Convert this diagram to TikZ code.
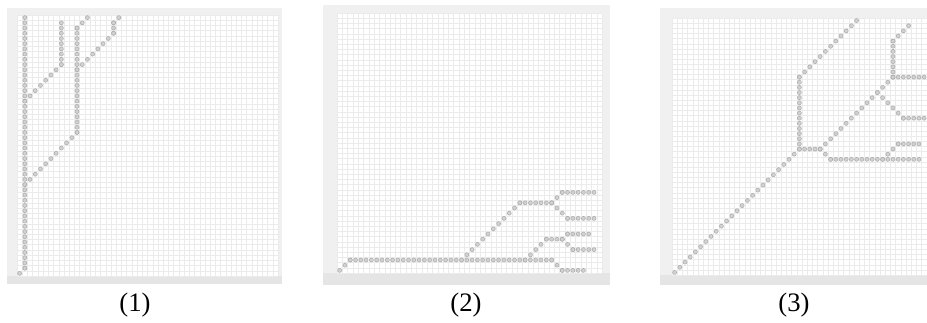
\documentclass[tikz,border=0pt]{standalone}
\usepackage{fontspec}
\setmainfont{Liberation Serif}

\newcommand{\panelgrid}{%
  \foreach \g in {0,...,50} {
    \draw[gridline] (\g-0.5,-0.5) -- (\g-0.5,49.5);
    \draw[gridline] (-0.5,\g-0.5) -- (49.5,\g-0.5);
  }}
\newcommand{\trail}[1]{%
  \foreach \ax/\ay/\bx/\by in {#1} {
    \pgfmathtruncatemacro\n{max(abs(\bx-\ax),abs(\by-\ay))}
    \foreach \k in {0,...,\n}
      \draw[pt] ({\ax+(\bx-\ax)*\k/\n},{\ay+(\by-\ay)*\k/\n}) circle[radius=1.5pt];
  }}

\begin{document}
\begin{tikzpicture}[x=0.75pt, y=-0.75pt,
  frame/.style={fill=gray!12},
  band/.style={fill=gray!20},
  gridline/.style={draw=gray!16, line width=0.3pt},
  pt/.style={draw=gray!65, fill=gray!35, line width=0.4pt},
  caption/.style={font=\fontsize{20}{22}\selectfont, inner sep=0pt}]
\useasboundingbox (0,0) rectangle (927,322);

% (1)
\fill[frame] (7,8) rectangle (282,284);
\fill[band] (7,276) rectangle (282,284);
\fill[white] (17,15) rectangle (278,276);
\begin{scope}[shift={(19.61,273.39)}, x=3.915pt, y=3.915pt]
  \panelgrid
  \trail{0/0/1/1, 1/1/1/49, 1/17/11/27, 11/27/11/47, 11/47/13/49,
    1/33/8/40, 8/40/8/48, 11/39/18/46, 18/46/18/48, 18/48/19/49}
\end{scope}
\node[caption] (cap1) at (135,305) {(1)};

% (2)
\fill[frame] (323,5) rectangle (610,285);
\fill[band] (323,273) rectangle (610,285);
\fill[white] (337,13) rectangle (602,273);
\begin{scope}[shift={(339.65,270.4)}, x=3.975pt, y=3.9pt]
  \panelgrid
  \trail{0/0/2/2, 2/2/40/2, 40/2/42/0, 42/0/46/0,
    23/2/34/13, 34/13/40/13, 40/13/42/15, 42/15/48/15, 40/13/43/10, 43/10/48/10,
    35/2/39/6, 39/6/42/6, 42/6/43/7, 43/7/47/7, 42/6/44/4, 44/4/48/4}
\end{scope}
\node[caption] (cap2) at (466,305) {(2)};

% (3)
\fill[frame] (660,8) rectangle (940,285);
\fill[band] (660,275) rectangle (940,285);
\fill[white] (672,18) rectangle (932,275);
\begin{scope}[shift={(674.6,272.43)}, x=3.9pt, y=3.855pt]
  \panelgrid
  \trail{0/0/24/24, 24/24/24/38, 24/38/35/49, 24/24/28/24,
    28/24/42/38, 42/38/48/38, 42/38/42/45, 42/45/45/48,
    39/35/44/30, 44/30/48/30, 28/24/30/22, 30/22/47/22,
    40/22/43/25, 43/25/47/25}
\end{scope}
\node[caption] (cap3) at (794,305) {(3)};
\end{tikzpicture}
\end{document}
